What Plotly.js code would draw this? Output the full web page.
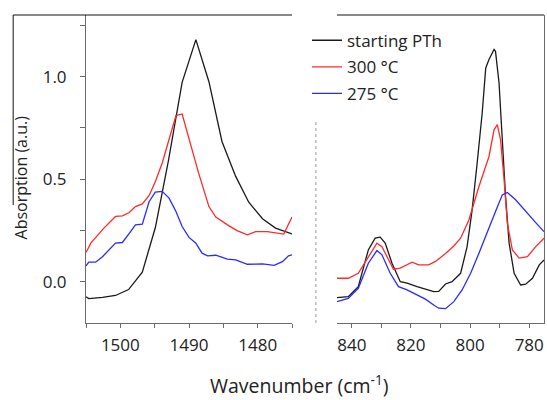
<!DOCTYPE html>
<html>
<head>
<meta charset="utf-8">
<script src="https://cdn.plot.ly/plotly-3.0.1.min.js"></script>
<style>html,body{margin:0;padding:0;background:#fff;}#chart{width:547px;height:400px;}</style>
</head>
<body>
<div id="chart"></div>
<script>
// ---- Data ----
var seriesNames = ["starting PTh", "300 °C", "275 °C"];

// Left panel (1505 – 1475 cm-1)
var leftBlackX = [1505, 1504.6, 1502.6, 1500.7, 1498.8, 1496.8, 1494.9, 1493.0, 1491.0, 1489.0, 1487.1, 1485.2, 1483.2, 1481.3, 1479.3, 1477.4, 1475];
var leftBlackY = [-0.072, -0.081, -0.075, -0.066, -0.037, 0.048, 0.265, 0.59, 0.972, 1.18, 0.975, 0.684, 0.514, 0.388, 0.308, 0.262, 0.234];

var leftRedX = [1505, 1504.3, 1502.4, 1500.7, 1499.7, 1498.7, 1497.8, 1496.8, 1495.8, 1494.9, 1493.9, 1492.9, 1491.9, 1491.0, 1489.8, 1488.6, 1487.1, 1486.1, 1484.4, 1483.0, 1481.5, 1480.3, 1478.6, 1476.7, 1476.2, 1475];
var leftRedY = [0.143, 0.189, 0.262, 0.319, 0.322, 0.338, 0.367, 0.38, 0.421, 0.489, 0.579, 0.701, 0.81, 0.818, 0.676, 0.53, 0.367, 0.316, 0.278, 0.25, 0.229, 0.245, 0.245, 0.233, 0.233, 0.316];

var leftBlueX = [1505, 1504.6, 1503.6, 1502.6, 1500.7, 1499.7, 1498.7, 1497.8, 1496.8, 1495.8, 1494.9, 1493.9, 1492.9, 1491.9, 1491.0, 1490.0, 1489.0, 1488.1, 1487.3, 1486.1, 1484.4, 1483.2, 1481.5, 1479.3, 1477.6, 1476.4, 1475.5, 1475];
var leftBlueY = [0.078, 0.096, 0.096, 0.123, 0.189, 0.192, 0.237, 0.278, 0.281, 0.392, 0.437, 0.441, 0.408, 0.343, 0.27, 0.217, 0.189, 0.14, 0.127, 0.13, 0.111, 0.107, 0.086, 0.088, 0.081, 0.099, 0.127, 0.132];

// Right panel (845 – 775 cm-1)
var rightBlackX = [845, 841.2, 837.8, 834.4, 832.1, 830.4, 828.7, 826.4, 823.6, 821.3, 817.9, 815.1, 812.3, 810.6, 808.3, 806.1, 803.2, 801.0, 799.3, 797.6, 795.9, 794.7, 793.6, 791.9, 791.4, 790.2, 789.1, 788.0, 786.8, 785.1, 782.9, 781.2, 778.9, 776.6, 775];
var rightBlackY = [-0.076, -0.072, -0.023, 0.156, 0.213, 0.218, 0.189, 0.091, 0.001, -0.006, -0.023, -0.036, -0.047, -0.046, -0.01, 0.001, 0.042, 0.172, 0.351, 0.579, 0.823, 1.042, 1.083, 1.132, 1.123, 0.969, 0.693, 0.416, 0.189, 0.042, -0.015, -0.011, 0.018, 0.083, 0.107];

var rightRedX = [845, 841.2, 837.8, 834.4, 831.5, 829.8, 827.6, 825.9, 823.6, 821.3, 819.6, 817.4, 814.0, 811.7, 808.3, 805.5, 803.2, 800.4, 797.0, 793.6, 791.9, 790.8, 789.7, 788.5, 787.4, 785.7, 783.4, 780.6, 777.8, 775];
var rightRedY = [0.018, 0.018, 0.042, 0.123, 0.189, 0.172, 0.107, 0.062, 0.067, 0.086, 0.096, 0.083, 0.083, 0.1, 0.138, 0.175, 0.213, 0.302, 0.465, 0.611, 0.741, 0.766, 0.693, 0.498, 0.286, 0.156, 0.116, 0.123, 0.172, 0.213];

var rightBlueX = [845, 841.2, 837.8, 834.4, 831.5, 829.8, 827.0, 824.2, 821.3, 817.9, 815.1, 812.3, 810.6, 808.3, 805.5, 802.7, 799.8, 797.0, 794.2, 791.4, 789.1, 787.4, 784.6, 781.2, 777.8, 775];
var rightBlueY = [-0.096, -0.08, -0.031, 0.091, 0.153, 0.132, 0.042, -0.023, -0.039, -0.063, -0.084, -0.112, -0.128, -0.13, -0.096, -0.039, 0.042, 0.14, 0.237, 0.343, 0.424, 0.436, 0.4, 0.343, 0.289, 0.245];

var leftTickVals = [1500, 1490, 1480];
var rightTickVals = [840, 820, 800, 780];
var yTickVals = [0.0, 0.5, 1.0];
var yTickText = ["0.0", "0.5", "1.0"];

// ---- Styling ----
var colors = ["#1a1a1a", "#ff2a2a", "#2a2aff"];
var FONT = "Open Sans, sans-serif";
var axisGrey = "#6a6a6a";

function tr(x, y, i, xa, ya, show) {
  return {x: x, y: y, type: "scatter", mode: "lines", name: seriesNames[i],
    xaxis: xa, yaxis: ya, showlegend: show, legendgroup: "g" + i,
    line: {color: colors[i], width: 1.3}, hoverinfo: "skip"};
}

var data = [
  tr(leftBlackX, leftBlackY, 0, "x", "y", true),
  tr(leftRedX, leftRedY, 1, "x", "y", true),
  tr(leftBlueX, leftBlueY, 2, "x", "y", true),
  tr(rightBlackX, rightBlackY, 0, "x2", "y2", false),
  tr(rightRedX, rightRedY, 1, "x2", "y2", false),
  tr(rightBlueX, rightBlueY, 2, "x2", "y2", false)
];

var tickFont = {family: FONT, size: 17, color: "#222"};

var layout = {
  width: 547, height: 400,
  margin: {l: 86, r: 3, t: 15, b: 77},
  paper_bgcolor: "#fff", plot_bgcolor: "rgba(0,0,0,0)",
  font: {family: FONT, color: "#222"},
  showlegend: true,
  legend: {x: 0.4825, y: 0.975, xanchor: "left", yanchor: "top",
    bgcolor: "rgba(0,0,0,0)", font: {family: FONT, size: 17, color: "#222"},
    tracegroupgap: 1.5},
  xaxis: {domain: [0, 0.4498], range: [1505, 1475], anchor: "y",
    showgrid: false, zeroline: false, showline: true, linecolor: axisGrey, linewidth: 1,
    ticks: "outside", ticklen: 4, tickcolor: axisGrey, tickvals: leftTickVals,
    ticklabelstandoff: 3,
    minor: {dtick: 5, ticks: "outside", ticklen: 4, tickcolor: axisGrey, showgrid: false},
    tickfont: tickFont},
  xaxis2: {domain: [0.548, 1], range: [845, 775], anchor: "y2",
    showgrid: false, zeroline: false, showline: true, linecolor: axisGrey, linewidth: 1,
    ticks: "outside", ticklen: 4, tickcolor: axisGrey, tickvals: rightTickVals,
    ticklabelstandoff: 3,
    minor: {dtick: 10, ticks: "outside", ticklen: 4, tickcolor: axisGrey, showgrid: false},
    tickfont: tickFont},
  yaxis: {range: [-0.2, 1.3], anchor: "x", showgrid: false, zeroline: false,
    showline: true, linecolor: axisGrey, linewidth: 1,
    ticks: "outside", ticklen: 5, tickcolor: axisGrey,
    tickvals: yTickVals, ticktext: yTickText, ticklabelstandoff: 10,
    minor: {dtick: 0.25, ticks: "outside", ticklen: 5, tickcolor: axisGrey, showgrid: false},
    tickfont: tickFont},
  yaxis2: {range: [-0.2, 1.3], anchor: "x2", side: "right", showgrid: false, zeroline: false,
    showline: true, linecolor: axisGrey, linewidth: 1, ticks: "", showticklabels: false},
  shapes: [
    {type: "line", xref: "paper", yref: "paper", x0: -0.159, x1: 0.4498, y0: 1, y1: 1,
      line: {color: "#111", width: 1}},
    {type: "line", xref: "paper", yref: "paper", x0: 0.548, x1: 1, y0: 1, y1: 1,
      line: {color: "#111", width: 1}},
    {type: "line", xref: "paper", yref: "paper", x0: -0.159, x1: -0.159, y0: 1, y1: 0.383,
      line: {color: "#111", width: 1}},
    {type: "line", xref: "paper", yref: "paper", x0: 0.502, x1: 0.502, y0: 0, y1: 0.659,
      line: {color: "#999", width: 1, dash: "dot"}}
  ],
  annotations: [
    {text: "Wavenumber (cm<sup>-1</sup>)", xref: "paper", yref: "paper",
      x: 0.467, y: -0.2, xanchor: "center", yanchor: "middle", showarrow: false,
      font: {family: FONT, size: 19.5, color: "#222"}},
    {text: "Absorption (a.u.)", xref: "paper", yref: "paper", textangle: -90,
      x: -0.141, y: 0.474, xanchor: "center", yanchor: "middle", showarrow: false,
      font: {family: FONT, size: 16, color: "#222"}}
  ]
};

Plotly.newPlot("chart", data, layout, {staticPlot: true, displayModeBar: false});
</script>
</body>
</html>
